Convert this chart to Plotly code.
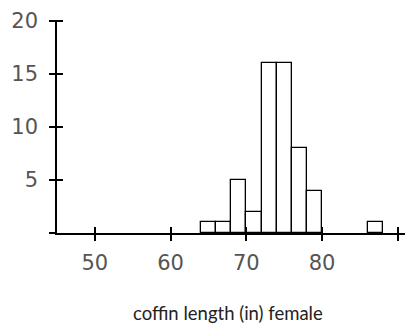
import plotly.graph_objects as go

# histogram of female coffin lengths, 2-inch bins
bin_left = [64, 66, 68, 70, 72, 74, 76, 78, 86]
counts = [1, 1, 5, 2, 16, 16, 8, 4, 1]
bin_width = 2

x_ticks = [50, 60, 70, 80, 90]
x_labels = ["50", "60", "70", "80", ""]
y_ticks = [0, 5, 10, 15, 20]
y_labels = ["", "5", "10", "15", "20"]

tick_font = dict(family="DejaVu Sans", size=21, color="#555555")

fig = go.Figure()
fig.add_trace(go.Bar(
    x=[b + bin_width / 2 for b in bin_left],
    y=counts,
    width=bin_width,
    marker=dict(color="white", line=dict(color="black", width=1.3)),
    showlegend=False,
    hoverinfo="skip",
))

axis_common = dict(showgrid=False, zeroline=False, ticklen=6,
                   tickwidth=1.5, tickcolor="black")

# the page body has an 8px margin, so the figure is sized to the rest
fig.update_layout(
    width=405, height=316,
    margin=dict(l=49, r=0, t=12, b=91),
    plot_bgcolor="white", paper_bgcolor="white",
    bargap=0,
    xaxis=dict(range=[45, 92], tickvals=x_ticks, ticktext=x_labels,
               ticks="outside", showline=True, linecolor="black",
               linewidth=1.5, tickfont=tick_font, ticklabelstandoff=4,
               **axis_common),
    yaxis=dict(range=[0, 20.1], tickvals=y_ticks, ticktext=y_labels,
               ticks="outside", showline=True, linecolor="black",
               linewidth=1.5, tickfont=tick_font, ticklabelstandoff=7,
               **axis_common),
    # overlay axes give the inner half of the crossing tick marks
    xaxis2=dict(range=[45, 92], overlaying="x", anchor="y2", side="bottom",
                tickvals=x_ticks, ticks="inside", showticklabels=False,
                **axis_common),
    yaxis2=dict(range=[0, 20.1], overlaying="y", anchor="x2", side="left",
                tickvals=y_ticks, ticks="inside", showticklabels=False,
                **axis_common),
    annotations=[dict(text="coffin length (in) female", xref="paper",
                      yref="paper", x=0.48, y=-0.375, showarrow=False,
                      font=dict(family="Lato", size=18.5, color="#222"),
                      xanchor="center", yanchor="middle")],
)

fig.add_trace(go.Scatter(x=[None], y=[None], xaxis="x2", yaxis="y2",
                         showlegend=False, hoverinfo="skip"))

fig.write_html("out.html")
